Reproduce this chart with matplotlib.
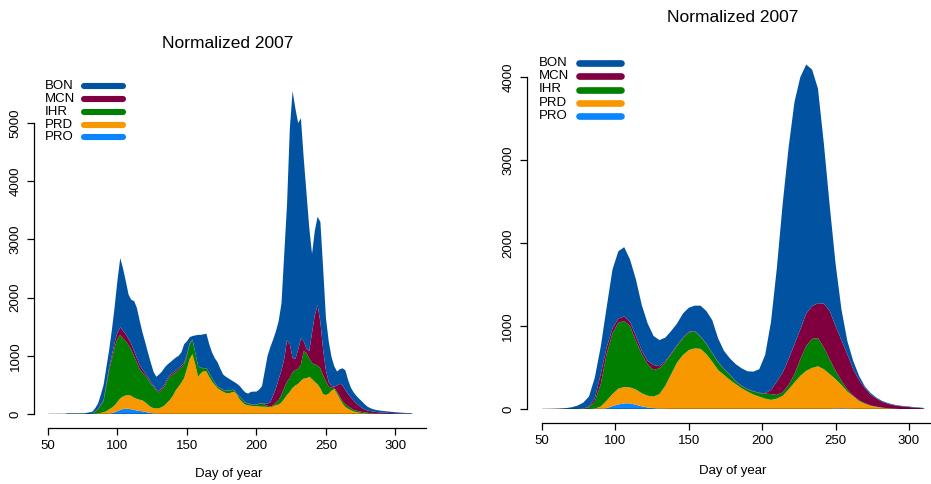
import numpy as np
import matplotlib
matplotlib.use("Agg")
import matplotlib.pyplot as plt
from matplotlib.lines import Line2D

plt.rcParams['font.family'] = ['Liberation Sans', 'DejaVu Sans']

dams = ['BON', 'MCN', 'IHR', 'PRD', 'PRO']
colors = {'BON': '#0152a1', 'MCN': '#80003f', 'IHR': '#007f00',
          'PRD': '#f89800', 'PRO': '#0a84ff'}

# left panel: daily counts (every 2nd day, 50..312)
days_l = np.arange(50, 313, 2)
pro_l = [0] * 22 + [5, 15, 30, 50, 70, 85, 90, 88, 80, 70, 60, 55, 45, 35, 25, 15, 10, 5, 3] + [0] * 91
prd_l = [0] * 17 + [5, 10, 20, 30, 50, 75, 95, 120, 160, 200, 215, 230, 238, 230, 210, 200, 190, 190,
                    165, 135, 105, 90, 90, 97,
                    120, 150, 200, 250, 320, 410, 470, 540, 620, 780, 950, 1030, 850, 640, 700,
                    740, 730, 640, 560, 500, 445, 410, 384, 360, 355, 370, 384, 330, 250, 200,
                    160, 150, 140, 137, 135, 130, 126, 125, 120, 115, 130, 155, 160, 200, 260,
                    326, 384, 450, 490, 520, 570, 610, 613, 641, 600, 550, 510, 441, 340, 326,
                    350, 400, 430,
                    350, 260, 180, 120, 90, 65, 45, 30, 22, 15, 10, 7, 4, 2, 1] + [0] * 13
ihr_l = [0] * 16 + [5] + [35, 70, 130, 190, 430, 670, 840, 1000, 1080, 1090, 1000, 930, 854, 790, 710,
                          620, 525, 475, 460, 440, 400, 370, 305, 270,
                          300, 330, 380, 400, 360, 310, 290, 260, 230, 220, 250, 240, 200, 180, 90,
                          45, 55, 60, 53, 40, 25, 30, 28, 40, 45, 40, 28, 10, 50, 40,
                          30, 30, 25, 18, 25, 45, 57, 35, 20, 11, 20, 45, 80, 130, 190,
                          230, 236, 270, 266, 260, 280, 470, 437, 309, 280, 300, 330, 339, 320, 234,
                          120, 50, 20,
                          30, 40, 40, 50, 40, 35, 25, 27, 23, 20, 18, 13, 11, 8, 6,
                          5, 4, 3, 2, 2, 1, 1, 0, 0, 0, 0, 0, 0]
mcn_l = [0] * 17 + [5, 10, 15, 20, 40, 50, 60, 80, 110, 130, 130, 120, 110, 100, 90, 80, 70, 50, 40,
                    30, 25, 20, 20, 20,
                    30, 30, 30, 30, 30, 30, 30, 30, 30, 30, 20, 10, 5, 5, 5,
                    5, 5, 5, 5, 5, 5, 5, 5, 5, 5, 5, 5, 5, 5, 5,
                    5, 5, 5, 5, 5, 5, 7, 15, 40, 74, 170, 240, 360, 420, 500,
                    714, 580, 240, 194, 320, 450, 170, 70, 130, 520, 850, 1030, 800, 440, 190,
                    80, 30, 20,
                    110, 220, 270, 240, 210, 180, 160, 123, 95, 65, 47, 40, 35, 32, 28,
                    25, 22, 19, 18, 15, 14, 12, 11, 9, 7, 5, 4, 3]
bon_l = [0] * 7 + [10] * 7 + [20, 30, 35] + \
        [55, 90, 165, 260, 280, 300, 440, 620, 900, 1190, 1070, 910, 760, 760, 860, 860, 760, 640, 530,
         420, 335, 230, 220, 290,
         280, 290, 240, 210, 220, 220, 210, 230, 320, 220, 100, 60, 295, 535, 565,
         580, 590, 495, 442, 415, 415, 335, 263, 235, 205, 165, 133, 175, 175, 175,
         175, 165, 210, 225, 220, 240, 290, 565, 820, 950, 960, 980, 1000, 1150, 1800,
         2330, 3700, 4590, 4300, 3900, 3780, 3150, 2680, 2120, 1350, 1450, 1520, 1720, 1400, 900,
         700, 500, 350,
         240, 250, 295, 340, 240, 170, 140, 130, 120, 115, 90, 65, 50, 40, 35,
         32, 29, 28, 25, 23, 20, 17, 16, 14, 13, 12, 10, 7]

# right panel: smoothed counts (every 4th day, 50..310)
days_r = np.arange(50, 311, 4)
pro_r = [0] * 11 + [10, 35, 55, 68, 68, 50, 32, 18, 10, 4, 2] + [0] * 28 + [5, 8, 5] + [0] * 13
prd_r = [0] * 9 + [5, 30, 90, 145, 190, 197, 192, 185, 158, 142, 140, 176, 278, 420, 560, 650, 710,
                   730, 725, 660, 570, 470, 410, 350, 300, 250, 210, 175, 150, 125, 110, 125, 160,
                   235, 320, 400, 460, 495, 515, 480, 420, 355, 282, 205, 155, 95, 62, 38, 24, 14,
                   7, 3, 0, 0, 0, 0, 0]
ihr_r = [0] * 7 + [5, 20, 85, 270, 560, 730, 795, 795, 740, 585, 470, 380, 320, 310, 280, 240, 200,
                   200, 210, 205, 145, 120, 100, 90, 70, 60, 30, 25, 25, 35, 40, 60, 70, 45, 40, 55,
                   100, 200, 300, 350, 340, 260, 180, 100, 50, 25, 5, 10, 8, 4, 4, 2, 1, 1, 0, 0,
                   0, 0, 0]
mcn_r = [0] * 8 + [10, 40, 120, 80, 60, 50, 55, 50, 60, 40, 40, 60, 25, 15, 10, 10, 10, 10, 5, 5,
                   5, 5, 5, 5, 5, 5, 5, 5, 5, 5, 5, 50, 160, 240, 310, 360, 360, 390, 395, 420,
                   530, 580, 540, 490, 425, 320, 245, 180, 128, 97, 69, 52, 41, 35, 28, 20, 14, 8]
bon_r = [0, 0, 2, 5, 10, 20, 40, 70, 120, 250, 330, 480, 710, 810, 835, 750, 680, 550, 450, 350,
         315, 285, 270, 260, 290, 290, 305, 370, 395, 395, 285, 215, 195, 205, 210, 215, 235,
         285, 460, 820, 1370, 2040, 2550, 2920, 3040, 3000, 2850, 2585, 1930, 1270, 750, 370,
         160, 100, 50, 20, 20, 10, 10, 10, 7, 5, 6, 6, 6, 5]

fig = plt.figure(figsize=(9.31, 4.84), dpi=100)
W, H = 931, 484


def px_axes(left, top, right, bottom):
    return fig.add_axes([left / W, 1 - bottom / H, (right - left) / W, (bottom - top) / H])


def style(ax, xmax, ymax, yticks, off_left, off_bottom):
    ax.set_xlim(50, xmax)
    ax.set_ylim(0, ymax)
    for s in ['top', 'right']:
        ax.spines[s].set_visible(False)
    ax.spines['left'].set_position(('outward', off_left))
    ax.spines['bottom'].set_position(('outward', off_bottom))
    ax.spines['left'].set_bounds(0, yticks[-1])
    ax.spines['bottom'].set_bounds(50, xmax)
    ax.spines['left'].set_linewidth(0.9)
    ax.spines['bottom'].set_linewidth(0.9)
    ax.set_xticks([50, 100, 150, 200, 250, 300])
    ax.set_yticks(yticks)
    ax.tick_params(direction='out', length=5, width=0.9, labelsize=9.5, pad=4)
    for lab in ax.get_yticklabels():
        lab.set_rotation(90)
        lab.set_va('center')
    ax.patch.set_alpha(0)


def legend(x_text, x0, x1, ys, lw):
    for name, y in zip(dams, ys):
        fig.text(x_text / W, 1 - y / H, name, fontsize=9.5, va='center', ha='left')
        fig.add_artist(Line2D([x0 / W, x1 / W], [1 - y / H, 1 - y / H], color=colors[name],
                              lw=lw, solid_capstyle='round'))


# left panel
axl = px_axes(48, 414 - 5700 * 0.0582, 426, 414)
axl.stackplot(days_l, pro_l, prd_l, ihr_l, mcn_l, bon_l,
              colors=[colors[d] for d in ['PRO', 'PRD', 'IHR', 'MCN', 'BON']], lw=0)
axl.hlines(0, days_l[0], days_l[-1], color='black', lw=1.0)
style(axl, 322, 5700, [0, 1000, 2000, 3000, 4000, 5000], 10, 10)
fig.text(228 / W, 1 - 43 / H, 'Normalized 2007', fontsize=12.5, ha='center', va='center')
fig.text(229 / W, 1 - 474 / H, 'Day of year', fontsize=9.5, ha='center', va='center')
legend(45, 84, 123, [86, 99, 112, 124.5, 137], 4.4)

# right panel
axr = px_axes(542, 409 - 4200 * 0.083, 931, 409)
axr.stackplot(days_r, pro_r, prd_r, ihr_r, mcn_r, bon_r,
              colors=[colors[d] for d in ['PRO', 'PRD', 'IHR', 'MCN', 'BON']], lw=0)
axr.hlines(0, days_r[0], days_r[-1], color='black', lw=1.0)
style(axr, 315, 4200, [0, 1000, 2000, 3000, 4000], 11, 10)
fig.text(733 / W, 1 - 17 / H, 'Normalized 2007', fontsize=12.5, ha='center', va='center')
fig.text(733 / W, 1 - 471 / H, 'Day of year', fontsize=9.5, ha='center', va='center')
legend(539, 579, 621, [63, 76, 89.5, 102.5, 116], 4.8)

fig.savefig('out.png', dpi=100)
